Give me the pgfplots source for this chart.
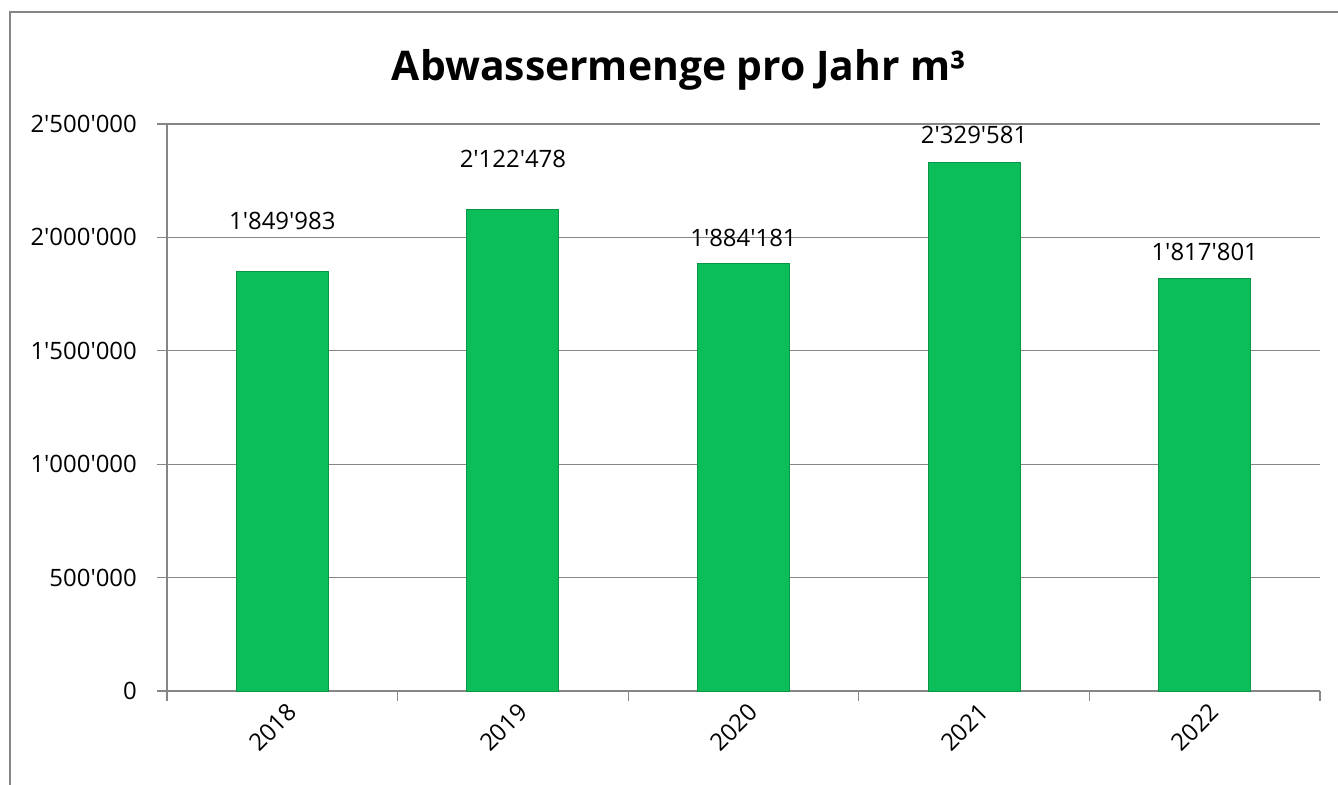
\documentclass[border=0pt]{standalone}
\usepackage{pgfplots}
\pgfplotsset{compat=1.18}
\usepackage{fontspec}
\setmainfont{Open Sans}[Ligatures=TeXOff]
\definecolor{bargreen}{RGB}{11,190,90}
\definecolor{baredge}{RGB}{8,150,70}
\definecolor{gridgray}{RGB}{134,134,134}
\begin{document}
\begin{tikzpicture}
\path[use as bounding box] (0,0) rectangle (1338bp,-785bp);
\draw[gridgray, line width=1.3bp] (10bp,-785bp) -- (10bp,-12bp) -- (1338bp,-12bp);
\node[font=\fontsize{41}{45}\selectfont\bfseries, anchor=base] at (679bp,-80bp) {Abwassermenge pro Jahr m³};
\begin{axis}[
  at={(167bp,-691bp)}, anchor=south west,
  scale only axis, width=1153bp, height=567bp,
  xmin=-0.5, xmax=4.5, ymin=0, ymax=2500000,
  scaled y ticks=false,
  axis x line*=bottom, axis y line*=left,
  axis line style={gridgray, line width=1.3bp},
  every tick/.style={gridgray, line width=1.3bp},
  tick align=outside,
  xtick={0,1,2,3,4},
  xticklabels={2018,2019,2020,2021,2022},
  major x tick style={draw=none},
  minor xtick={-0.5,0.5,1.5,2.5,3.5,4.5},
  minor tick length=10bp,
  major tick length=10bp,
  ytick={0,500000,1000000,1500000,2000000,2500000},
  yticklabels={0,500'000,1'000'000,1'500'000,2'000'000,2'500'000},
  ymajorgrids, grid style={gridgray, line width=1.3bp},
  x tick label style={font=\fontsize{24}{28}\selectfont, rotate=45, anchor=north east, inner sep=0pt, xshift=2bp, yshift=-3bp},
  y tick label style={font=\fontsize{24}{28}\selectfont, anchor=east, inner sep=0pt, xshift=-20bp},
  clip=false,
]
\addplot[ybar, bar width=92bp, fill=bargreen, draw=baredge, line width=1bp]
  coordinates {(0,1849983) (1,2122478) (2,1884181) (3,2329581) (4,1817801)};
\begin{scope}[every node/.style={font=\fontsize{24}{28}\selectfont, anchor=center}]
\node[yshift=50bp] at (axis cs:0,1849983) {1'849'983};
\node[yshift=51bp] at (axis cs:1,2122478) {2'122'478};
\node[yshift=26bp] at (axis cs:2,1884181) {1'884'181};
\node[yshift=28bp] at (axis cs:3,2329581) {2'329'581};
\node[yshift=27bp] at (axis cs:4,1817801) {1'817'801};
\end{scope}
\end{axis}
\end{tikzpicture}
\end{document}
